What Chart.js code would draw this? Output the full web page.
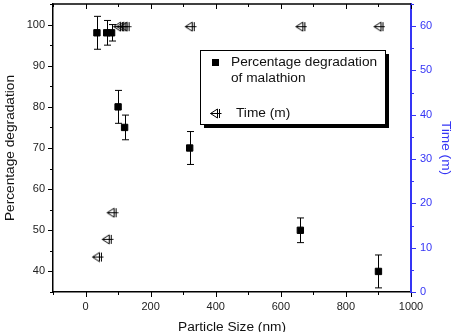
<!DOCTYPE html>
<html>
<head>
<meta charset="utf-8">
<script src="https://cdn.jsdelivr.net/npm/chart.js@4.4.0/dist/chart.umd.min.js"></script>
<style>
  body { margin: 0; background: #fff; }
  #wrap { width: 456px; height: 332px; }
</style>
</head>
<body>
<div id="wrap"><canvas id="myChart" width="456" height="332"></canvas></div>
<script>
// degradation series (left axis)
const sizes = [35, 65, 80, 100, 120, 320, 660, 900];
const degradation = [98, 98, 98, 80, 75, 70, 50, 40];
const degErr = [4, 3, 2, 4, 3, 4, 3, 4];

// time series (right axis)
const timeSizes = [35, 65, 80, 100, 110, 120, 320, 660, 900];
const times = [8, 12, 18, 60, 60, 60, 60, 60, 60];

const xTicks = [0, 200, 400, 600, 800, 1000];
const yTicks = [40, 50, 60, 70, 80, 90, 100];
const y2Ticks = [0, 10, 20, 30, 40, 50, 60];

const FONT = "'Liberation Sans', Arial, sans-serif";
const BLUE = '#3535f5';

// left-pointing open triangle with a cross, like the original plot symbol
function makeTriMarker() {
    const c = document.createElement('canvas');
    c.width = 14;
    c.height = 12;
    const g = c.getContext('2d');
    g.strokeStyle = '#000';
    g.lineWidth = 1;
    g.beginPath();
    g.moveTo(2.5, 6.5);
    g.lineTo(9.5, 2);
    g.lineTo(9.5, 11);
    g.closePath();
    g.moveTo(2.5, 6.5);
    g.lineTo(13.5, 6.5);
    g.moveTo(11.5, 2);
    g.lineTo(11.5, 11);
    g.stroke();
    return c;
}
const triMarker = makeTriMarker();

// no extra label padding, so the plot box is exactly what afterFit says
function noPad(s) {
    s.paddingTop = 0;
    s.paddingBottom = 0;
    s.paddingLeft = 0;
    s.paddingRight = 0;
}

const errorBars = {
    id: 'errorBars',
    beforeDatasetsDraw(chart) {
        const ctx = chart.ctx;
        const x = chart.scales.x, y = chart.scales.y;
        ctx.save();
        ctx.strokeStyle = '#000';
        ctx.lineWidth = 1;
        sizes.forEach((s, i) => {
            const px = Math.round(x.getPixelForValue(s)) + 0.5;
            const top = y.getPixelForValue(degradation[i] + degErr[i]);
            const bot = y.getPixelForValue(degradation[i] - degErr[i]);
            ctx.beginPath();
            ctx.moveTo(px, top);
            ctx.lineTo(px, bot);
            ctx.moveTo(px - 3.5, top);
            ctx.lineTo(px + 3.5, top);
            ctx.moveTo(px - 3.5, bot);
            ctx.lineTo(px + 3.5, bot);
            ctx.stroke();
        });
        ctx.restore();
    }
};

const frame = {
    id: 'frame',
    afterDraw(chart) {
        const ctx = chart.ctx;
        const a = chart.chartArea;
        const x = chart.scales.x, y = chart.scales.y, y2 = chart.scales.y2;
        ctx.save();
        ctx.lineWidth = 1.5;
        ctx.strokeStyle = '#000';
        // top border
        ctx.beginPath();
        ctx.moveTo(a.left, a.top);
        ctx.lineTo(a.right, a.top);
        ctx.stroke();

        ctx.lineWidth = 1;
        ctx.beginPath();
        for (let v = -100; v <= 1000; v += 100) {
            const px = Math.round(x.getPixelForValue(v)) + 0.5;
            const len = v % 200 === 0 ? 5 : 3;
            ctx.moveTo(px, a.bottom);
            ctx.lineTo(px, a.bottom + len);
            ctx.moveTo(px, a.top);
            ctx.lineTo(px, a.top + len);
        }
        for (let v = 35; v <= 105; v += 5) {
            const py = Math.round(y.getPixelForValue(v)) + 0.5;
            const len = v % 10 === 0 ? 5 : 3;
            ctx.moveTo(a.left, py);
            ctx.lineTo(a.left - len, py);
        }
        ctx.stroke();

        ctx.strokeStyle = BLUE;
        ctx.beginPath();
        for (let v = 0; v <= 65; v += 5) {
            const py = Math.round(y2.getPixelForValue(v)) + 0.5;
            const len = v % 10 === 0 ? 5 : 3;
            ctx.moveTo(a.right, py);
            ctx.lineTo(a.right + len, py);
        }
        ctx.stroke();

        // legend box with shadow
        const bx = 200, by = 50, bw = 185, bh = 74;
        ctx.fillStyle = '#000';
        ctx.fillRect(bx + 4, by + 4, bw, bh);
        ctx.fillStyle = '#fff';
        ctx.fillRect(bx, by, bw, bh);
        ctx.strokeStyle = '#000';
        ctx.lineWidth = 1;
        ctx.strokeRect(bx + 0.5, by + 0.5, bw, bh);

        ctx.fillStyle = '#000';
        ctx.fillRect(212, 59, 7, 7);
        ctx.drawImage(triMarker, 208, 107);

        ctx.fillStyle = '#111';
        ctx.font = '13.7px ' + FONT;
        ctx.textBaseline = 'middle';
        ctx.textAlign = 'left';
        ctx.fillText('Percentage degradation', 231, 62);
        ctx.fillText('of malathion', 231, 78);
        ctx.fillText('Time (m)', 236, 113);
        ctx.restore();
    }
};

const data = {
    datasets: [{
        label: 'Percentage degradation of malathion',
        data: sizes.map((s, i) => ({ x: s, y: degradation[i] })),
        yAxisID: 'y',
        pointStyle: 'rect',
        pointRadius: 4.5,
        backgroundColor: '#000',
        borderColor: '#000',
        borderWidth: 1,
        showLine: false
    }, {
        label: 'Time (m)',
        data: timeSizes.map((s, i) => ({ x: s, y: times[i] })),
        yAxisID: 'y2',
        pointStyle: triMarker,
        pointRadius: 6,
        showLine: false
    }]
};

const config = {
    type: 'scatter',
    data: data,
    options: {
        responsive: false,
        animation: false,
        devicePixelRatio: 1,
        layout: { autoPadding: false, padding: { top: 4, left: 0, right: 0, bottom: 0 } },
        plugins: { legend: { display: false }, tooltip: { enabled: false } },
        scales: {
            x: {
                type: 'linear',
                position: 'bottom',
                min: -100,
                max: 1000,
                afterBuildTicks: s => { s.ticks = xTicks.map(v => ({ value: v })); },
                afterFit: s => { s.height = 40; noPad(s); },
                grid: { display: true, drawOnChartArea: false, tickLength: 5, tickColor: 'rgba(0,0,0,0)' },
                border: { color: '#000', width: 1.5 },
                ticks: { color: '#222', padding: 3, maxRotation: 0, font: { family: FONT, size: 11 }, callback: v => String(v) },
                title: { display: true, text: 'Particle Size (nm)', color: '#111', padding: { top: 0, bottom: -3 }, font: { family: FONT, size: 13.7 } }
            },
            y: {
                type: 'linear',
                position: 'left',
                min: 35,
                max: 105,
                afterBuildTicks: s => { s.ticks = yTicks.map(v => ({ value: v })); },
                afterFit: s => { s.width = 53; noPad(s); },
                grid: { display: true, drawOnChartArea: false, tickLength: 5, tickColor: 'rgba(0,0,0,0)' },
                border: { color: '#000', width: 1.5 },
                ticks: { color: '#222', padding: 3, font: { family: FONT, size: 11 }, callback: v => String(v) },
                title: { display: true, text: 'Percentage degradation', color: '#111', padding: { top: 2, bottom: 0 }, font: { family: FONT, size: 13.7 } }
            },
            y2: {
                type: 'linear',
                position: 'right',
                min: 0,
                max: 65,
                afterBuildTicks: s => { s.ticks = y2Ticks.map(v => ({ value: v })); },
                afterFit: s => { s.width = 45; noPad(s); },
                grid: { display: true, drawOnChartArea: false, tickLength: 5, tickColor: 'rgba(0,0,0,0)' },
                border: { color: BLUE, width: 2 },
                ticks: { color: BLUE, padding: 4, font: { family: FONT, size: 11 }, callback: v => String(v) },
                title: { display: true, text: 'Time (m)', color: BLUE, padding: { top: 2, bottom: 0 }, font: { family: FONT, size: 13.7 } }
            }
        }
    },
    plugins: [errorBars, frame]
};

const myChart = new Chart(document.getElementById('myChart'), config);
</script>
</body>
</html>
